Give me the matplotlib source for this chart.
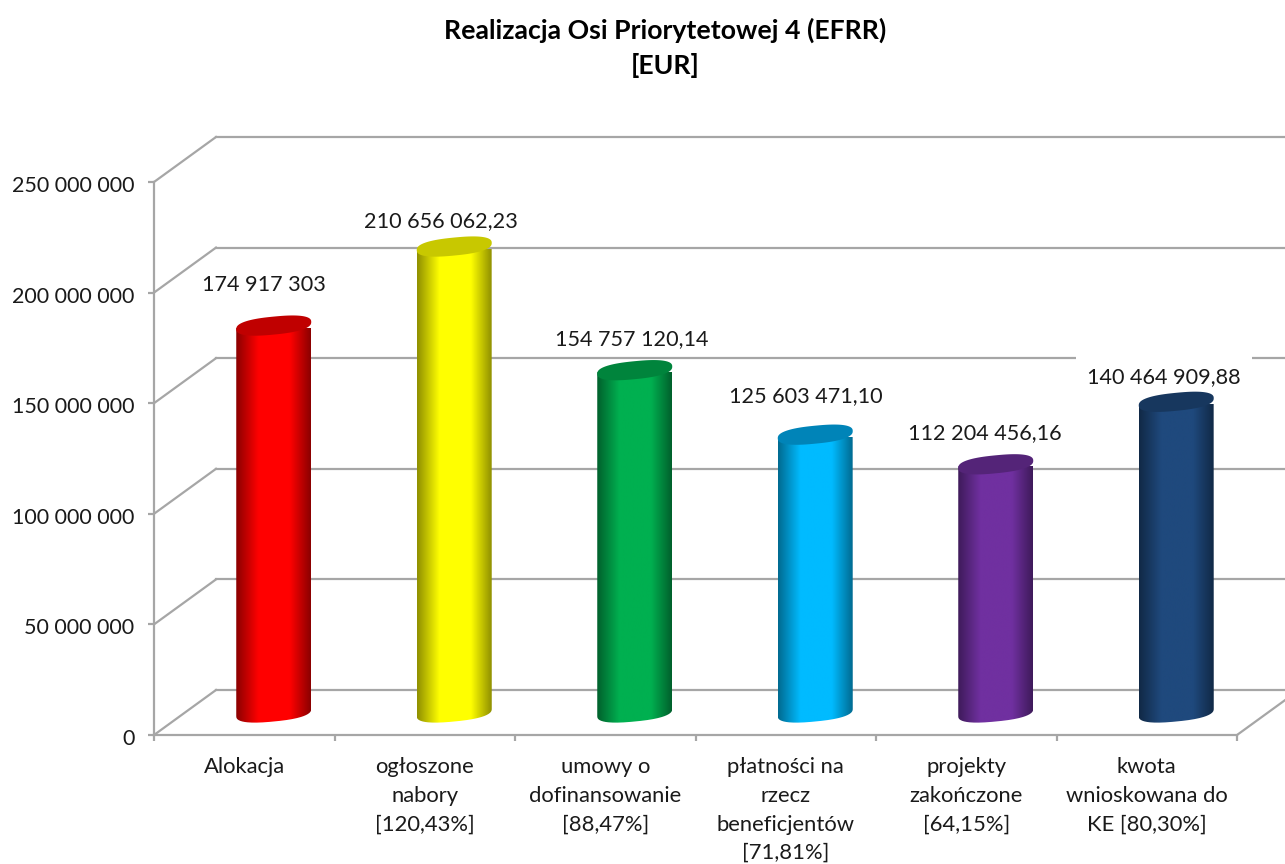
import numpy as np
import matplotlib
matplotlib.use("Agg")
import matplotlib.pyplot as plt
from matplotlib.patches import PathPatch
from matplotlib.path import Path
from matplotlib.colors import LinearSegmentedColormap
from matplotlib.ticker import FuncFormatter
from matplotlib.transforms import ScaledTranslation

# ---- data ----
categories = ["Alokacja", "ogłoszone\nnabory\n[120,43%]", "umowy o\ndofinansowanie\n[88,47%]",
              "płatności na\nrzecz\nbeneficjentów\n[71,81%]", "projekty\nzakończone\n[64,15%]",
              "kwota\nwnioskowana do\nKE [80,30%]"]
values = [174917303, 210656062.23, 154757120.14, 125603471.10, 112204456.16, 140464909.88]
value_labels = ["174 917 303", "210 656 062,23", "154 757 120,14", "125 603 471,10",
                "112 204 456,16", "140 464 909,88"]
y_ticks = [0, 50000000, 100000000, 150000000, 200000000, 250000000]
title = "Realizacja Osi Priorytetowej 4 (EFRR)\n[EUR]"

# ---- style ----
side_colors = ["#FF0000", "#FFFF00", "#00B050", "#00BBFF", "#7030A0", "#1F497D"]
edge_colors = ["#8A0000", "#8F8F00", "#00602C", "#006A90", "#3E1A5A", "#112946"]
top_colors = ["#C00000", "#C8C800", "#00843C", "#0084B8", "#542478", "#17375E"]
label_offsets = [(-10, 41), (-13, 25), (-3, 31), (-9, 39), (-11, 31), (-12, 25)]
label_pads = [5, 5, 5, 5, 5, 8]
GRID = "#A6A6A6"
TEXT = "#1a1a1a"
FONT = "Lato"
W, H = 1285, 864
plt.rcParams["font.family"] = [FONT, "DejaVu Sans"]

fig = plt.figure(figsize=(W / 100, H / 100), dpi=100, facecolor="white")
L, R, T, B = 154, 1237, 182, 735
ax = fig.add_axes([L / W, (H - B) / H, (R - L) / W, (B - T) / H])
ax.set_xlim(0, len(categories))
ax.set_ylim(0, y_ticks[-1])
PX = len(categories) / (R - L)           # data x per pixel
PY = y_ticks[-1] / (B - T)               # data y per pixel
DEPTH_X, DEPTH_Y = 62 * PX, 45 * PY      # oblique depth of the box
MID_X, MID_Y = 29.5 * PX, 22.5 * PY      # bar plane within the depth
LW = 1.6

# walls and floor
for v in y_ticks:
    ax.plot([0, DEPTH_X], [v, v + DEPTH_Y], color=GRID, lw=LW, clip_on=False, zorder=1)
    ax.plot([DEPTH_X, len(categories) + DEPTH_X], [v + DEPTH_Y] * 2, color=GRID, lw=LW,
            clip_on=False, zorder=1)
ax.plot([len(categories), len(categories) + DEPTH_X], [0, DEPTH_Y], color=GRID, lw=LW,
        clip_on=False, zorder=1)

# cylinders
a, b, tilt, power = 37.5, 9.0, np.radians(5.5), 2.5
def ellipse(cx, cy, t0, t1, n=80):
    t = np.linspace(t0, t1, n)
    c, s = np.cos(t), np.sin(t)
    ex = a * np.sign(c) * np.abs(c) ** (2 / power)
    ey = b * np.sign(s) * np.abs(s) ** (2 / power)
    return cx + ex * PX, cy + (ey + ex * np.tan(tilt)) * PY

for i, v in enumerate(values):
    cx = i + 0.5 + MID_X
    tx, ty = ellipse(cx, v + MID_Y, 0, 2 * np.pi)
    # body: lower half of base ellipse, up the right edge, back along the top
    bx, by = ellipse(cx, MID_Y, np.pi, 2 * np.pi)
    ux, uy = ellipse(cx, v + MID_Y, 0, np.pi)
    body = PathPatch(Path(np.column_stack([np.r_[bx, ux], np.r_[by, uy]])),
                     transform=ax.transData, fc="none", ec="none")
    ax.add_patch(body)
    cmap = LinearSegmentedColormap.from_list(
        "c", [(0, edge_colors[i]), (0.3, side_colors[i]), (0.72, side_colors[i]), (1, edge_colors[i])])
    im = ax.imshow(np.linspace(0, 1, 256)[None, :], cmap=cmap, aspect="auto", interpolation="bilinear",
                   extent=[cx - a * PX, cx + a * PX, 0, v + 20 * PY], zorder=3)
    im.set_clip_path(body)
    ax.fill(tx, ty, color=top_colors[i], lw=0, zorder=4)
    dx, dy = label_offsets[i]
    ax.annotate(value_labels[i], (cx, v + MID_Y), xytext=(dx, dy), textcoords="offset pixels",
                ha="center", va="center", fontsize=15.6, color=TEXT, zorder=2,
                bbox=dict(fc="white", ec="none", pad=label_pads[i]))

ax.set_xlim(0, len(categories))
ax.set_ylim(0, y_ticks[-1])
ax.patch.set_alpha(0)

# axes
for s in ("top", "right"):
    ax.spines[s].set_visible(False)
for s in ("left", "bottom"):
    ax.spines[s].set_color(GRID)
    ax.spines[s].set_linewidth(LW)
ax.set_yticks(y_ticks)
ax.yaxis.set_major_formatter(FuncFormatter(lambda v, _: f"{int(v):,}".replace(",", " ")))
ax.set_xticks(range(len(categories) + 1))
ax.set_xticklabels([])
ax.set_xticks(np.arange(len(categories)) + 0.5, minor=True)
ax.set_xticklabels(categories, minor=True, linespacing=1.54)
ax.tick_params(axis="both", which="major", color=GRID, width=LW, length=4)
ax.tick_params(axis="x", which="minor", length=0, pad=16, labelsize=15.8, labelcolor=TEXT)
ax.tick_params(axis="y", which="major", pad=10, labelsize=15.5, labelcolor=TEXT)
shift = ScaledTranslation(0, -2 / 100, fig.dpi_scale_trans)
for tick in ax.yaxis.get_major_ticks():
    tick.label1.set_verticalalignment("center_baseline")
    tick.label1.set_transform(tick.label1.get_transform() + shift)

fig.text(665 / W, 1 - 48 / H, title, ha="center", va="center", fontsize=19.2, fontweight="bold",
         color="black", linespacing=1.48)
fig.savefig("out.png", dpi=100, facecolor="white")
